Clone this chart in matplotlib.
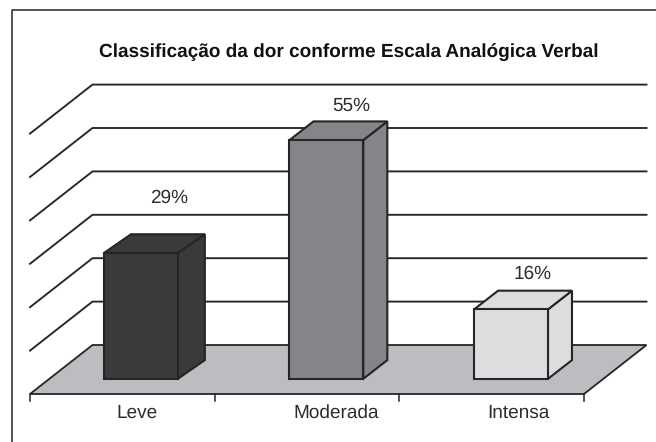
import matplotlib
matplotlib.use('Agg')
import matplotlib.pyplot as plt
from matplotlib.patches import Polygon

categories = ['Leve', 'Moderada', 'Intensa']
values = [29, 55, 16]
labels = ['29%', '55%', '16%']
colors = ['#3a3a3b', '#848589', '#dcddde']
grid_values = [10, 20, 30, 40, 50, 60]

title = 'Classificação da dor conforme Escala Analógica Verbal'

# label positions and bar tweaks, in px
cat_label_x = [137, 336.5, 518]
value_label_x = [169, 351, 533]
value_label_y = [197, 105, 273]
bar_shift = [-0.8, 0, 0]
bar_depth = [27, 24, 24]

plt.rcParams['font.family'] = ['Liberation Sans', 'DejaVu Sans']
plt.rcParams['text.hinting'] = 'no_hinting'
plt.rcParams['text.hinting_factor'] = 1
ink = '#262425'
text_ink = '#2e2c2d'

fig = plt.figure(figsize=(6.56, 4.42), dpi=100)
ax = fig.add_axes([0, 0, 1, 1])

# one category is 184.67 px wide, one percent is 4.34 px tall
x_unit = 184.67
y_unit = 4.34
ax.set_xlim(-30 / x_unit, 626 / x_unit)
ax.set_ylim(-48 / y_unit, 394 / y_unit)
ax.axis('off')


def px_x(x):
    return (x - 30) / x_unit


def px_y(y):
    return (394 - y) / y_unit


# depth of the floor
dx = 62.5 / x_unit
dy = 49 / y_unit
n = len(categories)

# frame
ax.plot([px_x(656), px_x(12), px_x(12)], [px_y(10), px_y(10), px_y(442)],
        color=ink, lw=1.1, clip_on=False)

# floor
ax.add_patch(Polygon([(0, 0), (n, 0), (n + dx, dy), (dx, dy)], closed=True,
                     facecolor='#bcbdc0', edgecolor=ink, lw=1.3))

# walls
for g in grid_values:
    ax.plot([0, dx, n + dx], [g, g + dy, g + dy], color=ink, lw=1.35, solid_joinstyle='miter')

# axis ticks
for i in range(n + 1):
    ax.plot([i, i], [0, -7 / y_unit], color=ink, lw=1.1)

# bars sit from 0.31 of the floor depth backwards
near = 0.31
width = 0.4
for i, (v, c) in enumerate(zip(values, colors)):
    x0 = i + 0.5 - width / 2 + near * dx + bar_shift[i] / x_unit
    x1 = x0 + width
    y0 = near * dy
    y1 = y0 + v
    ox = bar_depth[i] / x_unit
    oy = 18.7 / y_unit
    ax.add_patch(Polygon([(x1, y0), (x1 + ox, y0 + oy), (x1 + ox, y1 + oy), (x1, y1)], closed=True,
                         facecolor=c, edgecolor=ink, lw=1.5, zorder=3))
    ax.add_patch(Polygon([(x0, y1), (x1, y1), (x1 + ox, y1 + oy), (x0 + ox, y1 + oy)], closed=True,
                         facecolor=c, edgecolor=ink, lw=1.5, zorder=3))
    ax.add_patch(Polygon([(x0, y0), (x1, y0), (x1, y1), (x0, y1)], closed=True,
                         facecolor=c, edgecolor=ink, lw=1.5, zorder=3))
    ax.text(px_x(value_label_x[i]), px_y(value_label_y[i] + 0.5), labels[i], ha='center', va='center',
            fontsize=13.9, color=text_ink)
    ax.text(px_x(cat_label_x[i]), px_y(413), categories[i], ha='center', va='center',
            fontsize=13.9, color=text_ink)

ax.text(px_x(349), px_y(52), title, ha='center', va='center',
        fontsize=13.9, fontweight='bold', color='#111111')

fig.savefig('out.png', dpi=100)
